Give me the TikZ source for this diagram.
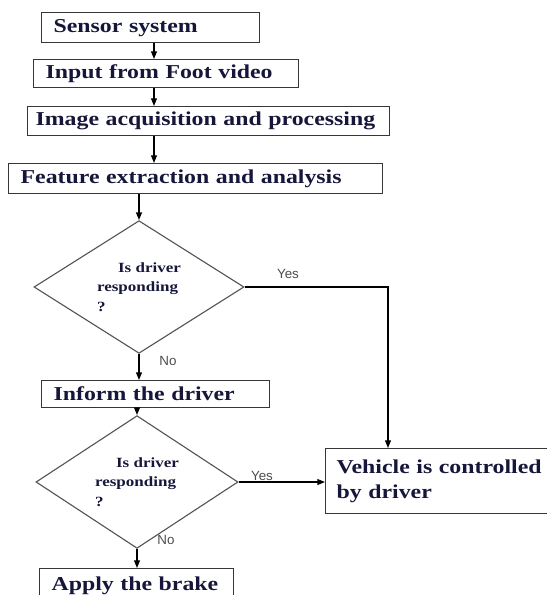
\documentclass[tikz,border=0pt]{standalone}
\usepackage{fontspec}
\setmainfont{Liberation Serif}
\newfontfamily\boxfont[FakeStretch=1.21]{Liberation Serif}
\newfontfamily\labfont{Liberation Sans}
\usetikzlibrary{shapes.geometric,arrows.meta}
\definecolor{ink}{RGB}{22,22,58}
\definecolor{rim}{RGB}{55,55,55}
\begin{document}
\begin{tikzpicture}[x=0.025cm, y=-0.025cm, >={Triangle[length=5.5pt,width=4.2pt]},
  box/.style={draw=rim, line width=0.9pt, anchor=north west, inner xsep=0.3cm, align=left, text=ink,
    font=\boxfont\bfseries\fontsize{14pt}{17.5pt}\selectfont,
    execute at begin node={\hyphenpenalty=10000\relax}},
  test node/.style={diamond, draw=rim!85, line width=0.8pt, inner sep=0pt, align=left, text=ink,
    font=\boxfont\bfseries\fontsize{10pt}{13.8pt}\selectfont},
  lab/.style={font=\labfont\fontsize{9.5pt}{11pt}\selectfont, text=black!70},
  arr/.style={->, line width=1pt}]
\useasboundingbox (0,0) rectangle (547,595);
\clip (0,0) rectangle (547,595);
\coordinate (axis) at (154,0);
\coordinate (turn) at (388,287);
% boxes down the left side
\node[box, text width=4.85cm, minimum height=0.75cm] (sensor) at (41,12) {Sensor system};
\node[box, text width=6.025cm, minimum height=0.7cm] (input) at (33,59) {Input from Foot video};
\node[box, inner xsep=0.2cm, text width=8.65cm, minimum height=0.725cm] (image) at (27,106) {Image acquisition and processing};
\node[box, text width=8.75cm, minimum height=0.75cm] (feature) at (8,163) {Feature extraction and analysis};
\node[test node, minimum width=5.25cm, minimum height=3.1cm] (ask1) at (139,287) {\hspace*{15pt}Is driver\\responding\\?};
\node[box, text width=5.1cm, minimum height=0.675cm] (inform) at (41,380) {Inform the driver};
\node[test node, minimum width=5.05cm, minimum height=2.75cm] (ask2) at (137,482) {\hspace*{15pt}Is driver\\responding\\?};
\node[box, inner xsep=0.3cm, text width=4.25cm, minimum height=0.85cm] (brake) at (39,568) {\mbox{Apply the brake}};
\node[box, inner xsep=0.275cm, text width=6cm, minimum height=1.625cm] (vehicle) at (325,448) {Vehicle is controlled\\by driver};
% connectors
\draw[arr] (axis |- sensor.south) -- (axis |- input.north);
\draw[arr] (axis |- input.south) -- (axis |- image.north);
\draw[arr] (axis |- image.south) -- (axis |- feature.north);
\draw[arr] (feature.south -| ask1.north) -- (ask1.north);
\draw[arr] (ask1.south) -- (inform.north -| ask1.south);
\draw[arr] (inform.south -| ask2.north) -- (ask2.north);
\draw[arr] (ask2.south) -- (brake.north -| ask2.south);
\draw[arr] (ask1.east) -- (turn) -- (turn |- vehicle.north);
\draw[arr] (ask2.east) -- (vehicle.west |- ask2.east);
% branch labels
\node[lab] (yes1) at (288,274) {Yes};
\node[lab] (no1) at (168,361) {No};
\node[lab] (yes2) at (262,476) {Yes};
\node[lab] (no2) at (166,540) {No};
\end{tikzpicture}
\end{document}
